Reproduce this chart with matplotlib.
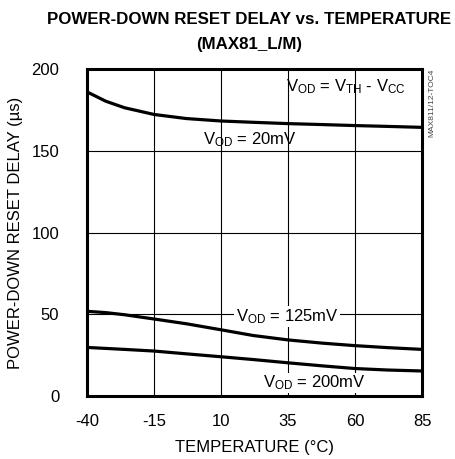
import matplotlib
matplotlib.use("Agg")
import matplotlib.pyplot as plt

plt.rcParams['font.family'] = ['Liberation Sans Narrow', 'Liberation Sans', 'DejaVu Sans']
plt.rcParams['mathtext.fontset'] = 'custom'
plt.rcParams['mathtext.rm'] = 'Liberation Sans'
plt.rcParams['mathtext.it'] = 'Liberation Sans'
plt.rcParams['axes.unicode_minus'] = False

# data
temp = [-40, -33, -26, -15, -3, 10, 22, 35, 48, 60, 72, 85]
delay_20mv = [186, 180.3, 176.3, 172.2, 169.7, 168.2, 167.4, 166.6, 166, 165.4, 164.9, 164.3]
delay_125mv = [51.8, 51, 49.7, 47.1, 44.2, 40.5, 37, 34.3, 32.3, 30.8, 29.6, 28.5]
delay_200mv = [29.7, 29.1, 28.5, 27.5, 25.8, 24, 22.3, 20.3, 18.4, 16.8, 15.9, 15.3]
xticks = [-40, -15, 10, 35, 60, 85]
yticks = [0, 50, 100, 150, 200]

fig = plt.figure(figsize=(4.56, 4.59), dpi=100)
ax = fig.add_axes([87/456, 1 - 396/459, 335/456, 327/459])

for y in [50, 100, 150]:
    ax.axhline(y, color='black', lw=0.8, zorder=1)
for x in [-15, 10, 35, 60]:
    ax.axvline(x, color='black', lw=0.8, zorder=1)

for d in (delay_20mv, delay_125mv, delay_200mv):
    ax.plot(temp, d, color='black', lw=2.3, zorder=3, solid_capstyle='butt',
            solid_joinstyle='round')

ax.set_xlim(-40, 85)
ax.set_ylim(0, 200)
ax.set_xticks(xticks)
ax.set_yticks(yticks)
ax.tick_params(length=0, labelsize=12)
ax.tick_params(axis='x', pad=13)
ax.tick_params(axis='y', pad=20)
for s in ax.spines.values():
    s.set_linewidth(2.2)

ax.set_xlabel('TEMPERATURE (°C)', fontsize=12, labelpad=8)
ax.set_ylabel('POWER-DOWN RESET DELAY (µs)', fontsize=12, labelpad=6)

fs = 12
ax.text(56.6, 189, r'V$_{\mathrm{OD}}$ = V$_{\mathrm{TH}}$ - V$_{\mathrm{CC}}$',
        ha='center', va='center', fontsize=fs, zorder=4)
ax.text(20.8, 157, r'V$_{\mathrm{OD}}$ = 20mV', ha='center', va='center', fontsize=fs, zorder=4)
ax.text(34.6, 48.5, r'V$_{\mathrm{OD}}$ = 125mV', ha='center', va='center', fontsize=fs,
        zorder=4, bbox=dict(facecolor='white', edgecolor='none', pad=1))
ax.text(45, 8, r'V$_{\mathrm{OD}}$ = 200mV', ha='center', va='center', fontsize=fs,
        zorder=4, bbox=dict(facecolor='white', edgecolor='none', pad=0.5))

fig.text(432/456, 1 - 103/459, 'MAX811/12-TOC4', rotation=90, ha='center', va='center',
         fontsize=6, color='#444444')

fig.text(249/456, 1 - 20/459, 'POWER-DOWN RESET DELAY vs. TEMPERATURE',
         ha='center', va='center', fontsize=12.2, fontweight='bold')
fig.text(249/456, 1 - 44/459, '(MAX81_L/M)',
         ha='center', va='center', fontsize=12.2, fontweight='bold')

fig.savefig('out.png', dpi=100)
